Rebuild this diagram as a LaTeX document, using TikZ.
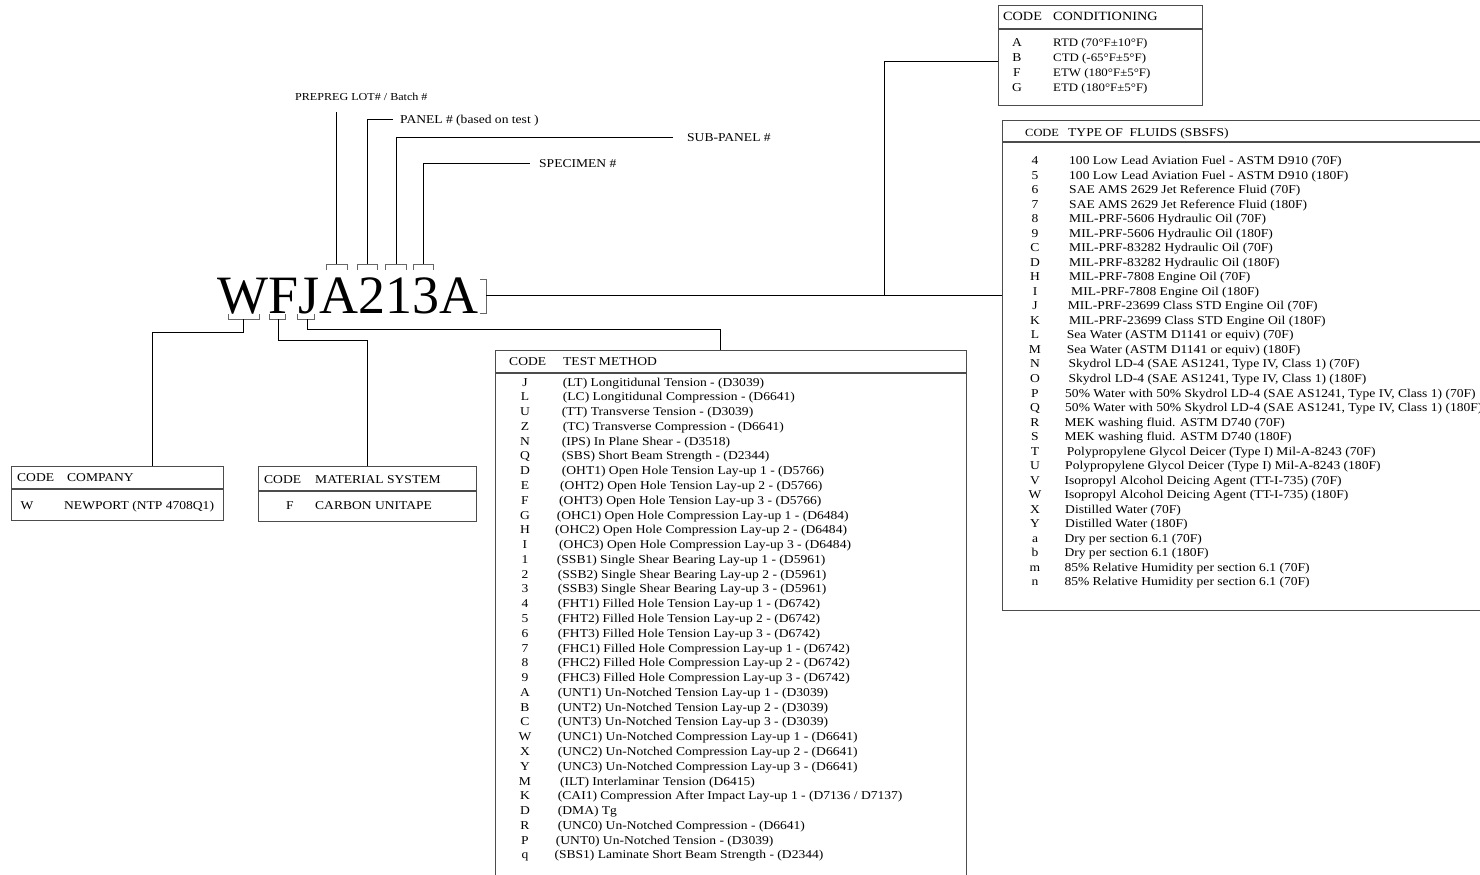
\documentclass[tikz,border=0pt]{standalone}
\usepackage{fontspec}
\setmainfont{Liberation Serif}[FakeStretch=1.13]
\newfontfamily\plainserif{Liberation Serif}
\newcommand\tmrow[4]{\node[cod] (tmc#1) at (525,{386+14.78*#1}) {#2};\node[txt] (tmt#1) at (#3,{386+14.78*#1}) {#4};}
\newcommand\flrow[4]{\node[cod] (flc#1) at (1035,{164.7+14.52*#1}) {#2};\node[txt] (flt#1) at (#3,{164.7+14.52*#1}) {#4};}
\newcommand\cdrow[3]{\node[cod] (cdc#1) at (1017,{47+14.7*#1}) {#2};\node[txt, font=\fontsize{11.4}{13}\selectfont] (cdt#1) at (1053,{47+14.7*#1}) {#3};}
\begin{document}
\begin{tikzpicture}[x=1pt,y=-1pt,
  conn/.style={draw=black, line width=0.9pt},
  brk/.style={draw=black!60, line width=0.9pt},
  tbl/.style={draw=black!70, line width=1.1pt},
  txt/.style={anchor=base west, inner sep=0pt, font=\fontsize{12}{13}\selectfont},
  cod/.style={anchor=base, inner sep=0pt, font=\fontsize{12}{13}\selectfont},
  box/.style={tbl, anchor=north west, inner sep=0pt}
]
\useasboundingbox (0,0) rectangle (1480,875);
\fill[white] (0,0) rectangle (1480,875);

% main code
\node[anchor=base west, inner sep=0pt, font=\plainserif\fontsize{54}{60}\selectfont] (code) at (217,313) {WFJA213A};

% boxes
\node[box, minimum width=204pt, minimum height=100pt] (cond) at (998,5) {};
\draw[tbl] (998,29) -- (1202,29);
\node[box, minimum width=493pt, minimum height=490pt] (fluid) at (1002,120) {};
\draw[tbl] (1002,142) -- (1495,142);
\node[box, minimum width=471pt, minimum height=535pt] (tm) at (495,350) {};
\draw[tbl] (495,373) -- (966,373);
\node[box, minimum width=212pt, minimum height=54pt] (comp) at (11,466) {};
\draw[tbl] (11,489) -- (223,489);
\node[box, minimum width=218pt, minimum height=55pt] (mat) at (258,466) {};
\draw[tbl] (258,491) -- (476,491);

% brackets
\coordinate (bW) at (243,319);
\coordinate (bF) at (278,319);
\coordinate (bJ) at (307,319);
\draw[brk] (228,314) -- (228,319) -- (259,319) -- (259,314);
\draw[brk] (269,314) -- (269,319) -- (285,319) -- (285,314);
\draw[brk] (297,314) -- (297,319) -- (314,319) -- (314,314);
\coordinate (t1) at (336,264);
\coordinate (t2) at (367,264);
\coordinate (t3) at (396,264);
\coordinate (t4) at (423,264);
\draw[brk] (326,270) -- (326,264) -- (347,264) -- (347,270);
\draw[brk] (357,270) -- (357,264) -- (377,264) -- (377,270);
\draw[brk] (385,270) -- (385,264) -- (406,264) -- (406,270);
\draw[brk] (413,270) -- (413,264) -- (433,264) -- (433,270);
\coordinate (rb) at (486,295);
\draw[brk] (480,279) -- (486,279) -- (486,313) -- (480,313);

% labels
\node[txt, font=\fontsize{10.7}{12}\selectfont] (lprep) at (295,100) {PREPREG LOT\# / Batch \#};
\node[txt] (lpanel) at (400,123) {PANEL \# (based on test )};
\node[txt] (lsub) at (687,141) {SUB-PANEL \#};
\node[txt] (lspec) at (539,167) {SPECIMEN \#};

% connectors
\draw[conn] (t1) -- (336,112);
\draw[conn] (t2) -- (367,119) -- (393,119);
\draw[conn] (t3) -- (396,137) -- (673,137);
\draw[conn] (t4) -- (423,163) -- (530,163);
\draw[conn] (bW) -- (243,332) -- (152,332) -- (152,466);
\draw[conn] (bF) -- (278,340) -- (367,340) -- (367,466);
\draw[conn] (bJ) -- (307,329) -- (720,329) -- (720,350);
\draw[conn] (rb) -- (1002,295);
\draw[conn] (884,295) -- (884,61) -- (998,61);

% conditioning
\node[txt, font=\fontsize{12.6}{13}\selectfont] (cdh1) at (1003,21) {CODE};
\node[txt, font=\fontsize{12.6}{13}\selectfont] (cdh2) at (1053,21) {CONDITIONING};
\cdrow{0}{A}{RTD (70°F±10°F)}
\cdrow{1}{B}{CTD (-65°F±5°F)}
\cdrow{2}{F}{ETW (180°F±5°F)}
\cdrow{3}{G}{ETD (180°F±5°F)}

% fluids
\node[txt, font=\fontsize{11}{13}\selectfont] (flh1) at (1025,136) {CODE};
\node[txt] (flh2) at (1068,136) {TYPE OF~ FLUIDS (SBSFS)};
\flrow{0}{4}{1069}{100 Low Lead Aviation Fuel - ASTM D910 (70F)}
\flrow{1}{5}{1069}{100 Low Lead Aviation Fuel - ASTM D910 (180F)}
\flrow{2}{6}{1069}{SAE AMS 2629 Jet Reference Fluid (70F)}
\flrow{3}{7}{1069}{SAE AMS 2629 Jet Reference Fluid (180F)}
\flrow{4}{8}{1069}{MIL-PRF-5606 Hydraulic Oil (70F)}
\flrow{5}{9}{1069}{MIL-PRF-5606 Hydraulic Oil (180F)}
\flrow{6}{C}{1069}{MIL-PRF-83282 Hydraulic Oil (70F)}
\flrow{7}{D}{1069}{MIL-PRF-83282 Hydraulic Oil (180F)}
\flrow{8}{H}{1069}{MIL-PRF-7808 Engine Oil (70F)}
\flrow{9}{I}{1071}{MIL-PRF-7808 Engine Oil (180F)}
\flrow{10}{J}{1067.7}{MIL-PRF-23699 Class STD Engine Oil (70F)}
\flrow{11}{K}{1069}{MIL-PRF-23699 Class STD Engine Oil (180F)}
\flrow{12}{L}{1066.7}{Sea Water (ASTM D1141 or equiv) (70F)}
\flrow{13}{M}{1066.7}{Sea Water (ASTM D1141 or equiv) (180F)}
\flrow{14}{N}{1068.3}{Skydrol LD-4 (SAE AS1241, Type IV, Class 1) (70F)}
\flrow{15}{O}{1068.3}{Skydrol LD-4 (SAE AS1241, Type IV, Class 1) (180F)}
\flrow{16}{P}{1065}{50\% Water with 50\% Skydrol LD-4 (SAE AS1241, Type IV, Class 1) (70F)}
\flrow{17}{Q}{1065}{50\% Water with 50\% Skydrol LD-4 (SAE AS1241, Type IV, Class 1) (180F)}
\flrow{18}{R}{1064.3}{MEK washing fluid. ASTM D740 (70F)}
\flrow{19}{S}{1064.3}{MEK washing fluid. ASTM D740 (180F)}
\flrow{20}{T}{1066.7}{Polypropylene Glycol Deicer (Type I) Mil-A-8243 (70F)}
\flrow{21}{U}{1065}{Polypropylene Glycol Deicer (Type I) Mil-A-8243 (180F)}
\flrow{22}{V}{1064.3}{Isopropyl Alcohol Deicing Agent (TT-I-735) (70F)}
\flrow{23}{W}{1064.3}{Isopropyl Alcohol Deicing Agent (TT-I-735) (180F)}
\flrow{24}{X}{1065}{Distilled Water (70F)}
\flrow{25}{Y}{1065}{Distilled Water (180F)}
\flrow{26}{a}{1064.3}{Dry per section 6.1 (70F)}
\flrow{27}{b}{1064.3}{Dry per section 6.1 (180F)}
\flrow{28}{m}{1064.3}{85\% Relative Humidity per section 6.1 (70F)}
\flrow{29}{n}{1064.3}{85\% Relative Humidity per section 6.1 (70F)}

% test method
\node[txt] (tmh1) at (509,365) {CODE};
\node[txt] (tmh2) at (563,365) {TEST METHOD};
\tmrow{0}{J}{562.7}{(LT) Longitidunal Tension - (D3039)}
\tmrow{1}{L}{562.7}{(LC) Longitidunal Compression - (D6641)}
\tmrow{2}{U}{561.7}{(TT) Transverse Tension - (D3039)}
\tmrow{3}{Z}{562.7}{(TC) Transverse Compression - (D6641)}
\tmrow{4}{N}{561.7}{(IPS) In Plane Shear - (D3518)}
\tmrow{5}{Q}{561.7}{(SBS) Short Beam Strength - (D2344)}
\tmrow{6}{D}{561.7}{(OHT1) Open Hole Tension Lay-up 1 - (D5766)}
\tmrow{7}{E}{560}{(OHT2) Open Hole Tension Lay-up 2 - (D5766)}
\tmrow{8}{F}{559}{(OHT3) Open Hole Tension Lay-up 3 - (D5766)}
\tmrow{9}{G}{556.7}{(OHC1) Open Hole Compression Lay-up 1 - (D6484)}
\tmrow{10}{H}{555}{(OHC2) Open Hole Compression Lay-up 2 - (D6484)}
\tmrow{11}{I}{559}{(OHC3) Open Hole Compression Lay-up 3 - (D6484)}
\tmrow{12}{1}{556.7}{(SSB1) Single Shear Bearing Lay-up 1 - (D5961)}
\tmrow{13}{2}{557.7}{(SSB2) Single Shear Bearing Lay-up 2 - (D5961)}
\tmrow{14}{3}{557.7}{(SSB3) Single Shear Bearing Lay-up 3 - (D5961)}
\tmrow{15}{4}{557.7}{(FHT1) Filled Hole Tension Lay-up 1 - (D6742)}
\tmrow{16}{5}{557.7}{(FHT2) Filled Hole Tension Lay-up 2 - (D6742)}
\tmrow{17}{6}{557.7}{(FHT3) Filled Hole Tension Lay-up 3 - (D6742)}
\tmrow{18}{7}{557.7}{(FHC1) Filled Hole Compression Lay-up 1 - (D6742)}
\tmrow{19}{8}{557.7}{(FHC2) Filled Hole Compression Lay-up 2 - (D6742)}
\tmrow{20}{9}{557.7}{(FHC3) Filled Hole Compression Lay-up 3 - (D6742)}
\tmrow{21}{A}{557.7}{(UNT1) Un-Notched Tension Lay-up 1 - (D3039)}
\tmrow{22}{B}{557.7}{(UNT2) Un-Notched Tension Lay-up 2 - (D3039)}
\tmrow{23}{C}{557.7}{(UNT3) Un-Notched Tension Lay-up 3 - (D3039)}
\tmrow{24}{W}{557.7}{(UNC1) Un-Notched Compression Lay-up 1 - (D6641)}
\tmrow{25}{X}{557.7}{(UNC2) Un-Notched Compression Lay-up 2 - (D6641)}
\tmrow{26}{Y}{557.7}{(UNC3) Un-Notched Compression Lay-up 3 - (D6641)}
\tmrow{27}{M}{560}{(ILT) Interlaminar Tension (D6415)}
\tmrow{28}{K}{557.7}{(CAI1) Compression After Impact Lay-up 1 - (D7136 / D7137)}
\tmrow{29}{D}{557.7}{(DMA) Tg}
\tmrow{30}{R}{557.7}{(UNC0) Un-Notched Compression - (D6641)}
\tmrow{31}{P}{555.7}{(UNT0) Un-Notched Tension - (D3039)}
\tmrow{32}{q}{554.3}{(SBS1) Laminate Short Beam Strength - (D2344)}

% company / material
\node[txt] (cph1) at (17,481) {CODE};
\node[txt] (cph2) at (67,481) {COMPANY};
\node[cod] (cpc) at (27,509) {W};
\node[txt] (cpt) at (64,509) {NEWPORT (NTP 4708Q1)};
\node[txt] (mth1) at (264,483) {CODE};
\node[txt] (mth2) at (315,483) {MATERIAL SYSTEM};
\node[cod] (mtc) at (290,509) {F};
\node[txt] (mtt) at (315,509) {CARBON UNITAPE};
\end{tikzpicture}
\end{document}
